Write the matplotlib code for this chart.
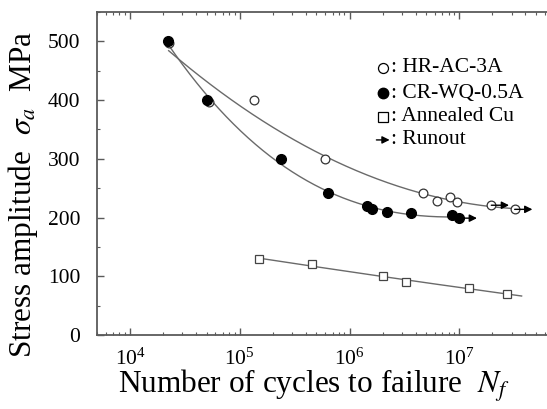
import numpy as np
import matplotlib.pyplot as plt
from matplotlib.ticker import FixedLocator, LogLocator, LogFormatterMathtext, MultipleLocator

plt.rcParams['font.family'] = ['Liberation Serif', 'DejaVu Serif']
plt.rcParams['mathtext.fontset'] = 'stix'

# HR-AC-3A (open circles)
hr_n = [2.25e4, 5.2e4, 1.34e5, 6.0e5, 4.7e6, 6.3e6, 8.3e6, 9.6e6, 1.96e7, 3.2e7]
hr_s = [497, 396, 400, 300, 241, 228, 235, 226, 221, 214]
hr_runout = [1.96e7, 3.2e7]
hr_runout_s = [221, 214]

# CR-WQ-0.5A (filled circles)
cr_n = [2.2e4, 5.0e4, 2.4e5, 6.4e5, 1.45e6, 1.6e6, 2.2e6, 3.6e6, 8.5e6, 1.0e7]
cr_s = [500, 400, 300, 241, 220, 215, 209, 207, 204, 199]
cr_runout = [1.0e7]
cr_runout_s = [199]

# Annealed Cu (open squares)
cu_n = [1.5e5, 4.6e5, 2.0e6, 3.3e6, 1.24e7, 2.7e7]
cu_s = [129, 121, 100, 90, 80, 70]

x_major = [1e4, 1e5, 1e6, 1e7]
legend_labels = [': HR-AC-3A', ': CR-WQ-0.5A', ': Annealed Cu', ': Runout']

line_col = '#6a6a6a'
spine_col = '#5a5a5a'


def fit_curve(n, s, deg, n_end=None):
	x = np.log10(n)
	p = np.polyfit(x, s, deg)
	hi = x.max() if n_end is None else np.log10(n_end)
	xx = np.linspace(x.min(), hi, 200)
	return 10 ** xx, np.polyval(p, xx)


fig = plt.figure(figsize=(5.47, 4.09), dpi=100)
ax = fig.add_axes([0.1773, 0.1809, 0.8629, 0.7897])

# fitted curves
x, y = fit_curve(hr_n, hr_s, 2)
ax.plot(x, y, color=line_col, lw=1.0, zorder=1)
x, y = fit_curve(cr_n, cr_s, 3)
ax.plot(x, y, color=line_col, lw=1.0, zorder=1)
x, y = fit_curve(cu_n, cu_s, 2, n_end=3.7e7)
ax.plot(x, y, color=line_col, lw=1.0, zorder=1)

# data points
ax.plot(hr_n, hr_s, 'o', ms=6.3, mfc='white', mec='#333333', mew=0.9, ls='none', zorder=2)
ax.plot(cr_n, cr_s, 'o', ms=7, mfc='black', mec='black', ls='none', zorder=3)
ax.plot(cu_n, cu_s, 's', ms=5.5, mfc='white', mec='#444444', mew=0.9, ls='none', zorder=2)

# runout arrows
for n, s in zip(hr_runout + cr_runout, hr_runout_s + cr_runout_s):
	ax.annotate('', xy=(n * 1.45, s), xytext=(n, s),
		arrowprops=dict(arrowstyle='-|>', color='black', lw=1.0,
			mutation_scale=11, shrinkA=0, shrinkB=0), zorder=4)

ax.set_xscale('log')
ax.set_xlim(5e3, 1e8)
ax.set_ylim(0, 550)

ax.xaxis.set_major_locator(FixedLocator(x_major))
ax.xaxis.set_minor_locator(LogLocator(base=10, subs=np.arange(2, 10), numticks=10))
ax.xaxis.set_major_formatter(LogFormatterMathtext())
ax.yaxis.set_major_locator(MultipleLocator(100))
ax.yaxis.set_minor_locator(MultipleLocator(50))

ax.tick_params(which='both', direction='in', top=True, right=False, color=spine_col)
ax.tick_params(which='major', length=5, width=1.0, labelsize=15.5)
ax.tick_params(which='minor', length=2.5, width=0.8)
ax.tick_params(axis='y', which='major', pad=12)
ax.tick_params(axis='x', which='major', pad=10)

for side in ['left', 'bottom', 'top']:
	ax.spines[side].set_color(spine_col)
	ax.spines[side].set_linewidth(1.3)
ax.spines['right'].set_visible(False)

ax.set_xlabel(r'Number of cycles to failure  $N_f$', fontsize=22.5)
ax.set_ylabel(r'Stress amplitude  $\sigma_a$  MPa', fontsize=22.5)
ax.xaxis.set_label_coords(0.46, -0.102)
ax.yaxis.set_label_coords(-0.12, 0.436)

# hand made legend
lx = 0.606
ly = [0.827, 0.749, 0.675, 0.604]
ax.plot([lx], [ly[0]], 'o', ms=7.2, mfc='white', mec='black', mew=0.9, transform=ax.transAxes, clip_on=False)
ax.plot([lx], [ly[1]], 'o', ms=7.5, mfc='black', mec='black', transform=ax.transAxes, clip_on=False)
ax.plot([lx], [ly[2]], 's', ms=7, mfc='white', mec='black', mew=0.9, transform=ax.transAxes, clip_on=False)
ax.annotate('', xy=(lx + 0.014, ly[3]), xytext=(lx - 0.014, ly[3]), xycoords='axes fraction',
	arrowprops=dict(arrowstyle='-|>', color='black', lw=1.0, mutation_scale=11, shrinkA=0, shrinkB=0))
for yy, lab in zip(ly, legend_labels):
	ax.text(lx + 0.016, yy, lab, transform=ax.transAxes, fontsize=15.5, va='center', ha='left')

plt.savefig('out.png', dpi=100)
